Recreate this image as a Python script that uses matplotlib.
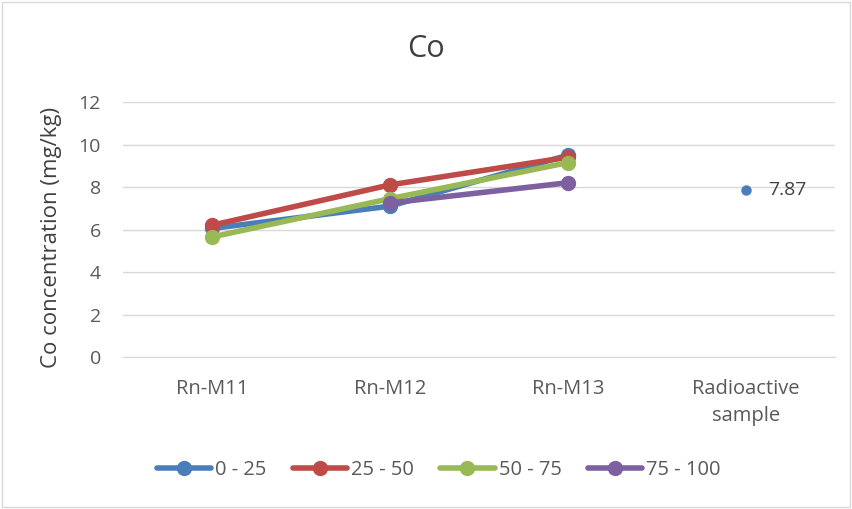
import matplotlib.pyplot as plt
import numpy as np

plt.rcParams['font.family'] = ['Open Sans', 'DejaVu Sans']

categories = ["Rn-M11", "Rn-M12", "Rn-M13", "Radioactive\nsample"]
depth_0_25 = [6.05, 7.1, 9.5]
depth_25_50 = [6.2, 8.1, 9.4]
depth_50_75 = [5.65, 7.45, 9.15]
depth_75_100 = [np.nan, 7.25, 8.2]
radioactive = 7.87

series = [("0 - 25", depth_0_25, "#4a7ebb"),
          ("25 - 50", depth_25_50, "#be4b48"),
          ("50 - 75", depth_50_75, "#98b954"),
          ("75 - 100", depth_75_100, "#7d60a0")]

fig = plt.figure(figsize=(8.52, 5.09), dpi=100)
ax = fig.add_axes([0.1444, 0.2986, 0.8356, 0.501])

x = np.arange(len(categories))
for label, vals, col in series:
    ax.plot(x[:len(vals)], vals, color=col, lw=4, marker="o", ms=10,
            label=label, solid_capstyle="round", zorder=3)

ax.plot([x[3]], [radioactive], color="#4a7ebb", marker="o", ms=6.5, ls="none", zorder=3)
ax.annotate(f"{radioactive:.2f}", (x[3], radioactive), xytext=(16, 0),
            textcoords="offset points", va="center", ha="left",
            fontsize=14, color="#404040")

ax.set_xlim(-0.5, 3.5)
ax.set_ylim(0, 12)
ax.set_yticks(range(0, 13, 2))
ax.set_xticks(x)
ax.set_xticklabels(categories, linespacing=1.45)
ax.tick_params(length=0, labelcolor="#595959")
ax.tick_params(axis="y", pad=16, labelsize=14)
ax.tick_params(axis="x", pad=16, labelsize=14.5)
ax.grid(axis="y", color="#d9d9d9", lw=1)
ax.set_axisbelow(True)
for s in ["top", "right", "left"]:
    ax.spines[s].set_visible(False)
ax.spines["bottom"].set_color("#d9d9d9")

ax.set_ylabel("Co concentration (mg/kg)", fontsize=16, color="#404040")
ax.yaxis.set_label_coords(-0.086, 0.47)
fig.text(0.5, 0.903, "Co", ha="center", va="center", fontsize=22, color="#404040")

leg = fig.legend(loc="center", bbox_to_anchor=(0.515, 0.077), ncol=4, frameon=False,
                 fontsize=14.5, handlelength=2.7, columnspacing=1.3, handletextpad=0.2)
for t in leg.get_texts():
    t.set_color("#595959")

fig.patches.append(plt.Rectangle((0.002, 0.004), 0.996, 0.992, transform=fig.transFigure,
                                 fill=False, ec="#d9d9d9", lw=1))

plt.savefig("out.png", dpi=100)
